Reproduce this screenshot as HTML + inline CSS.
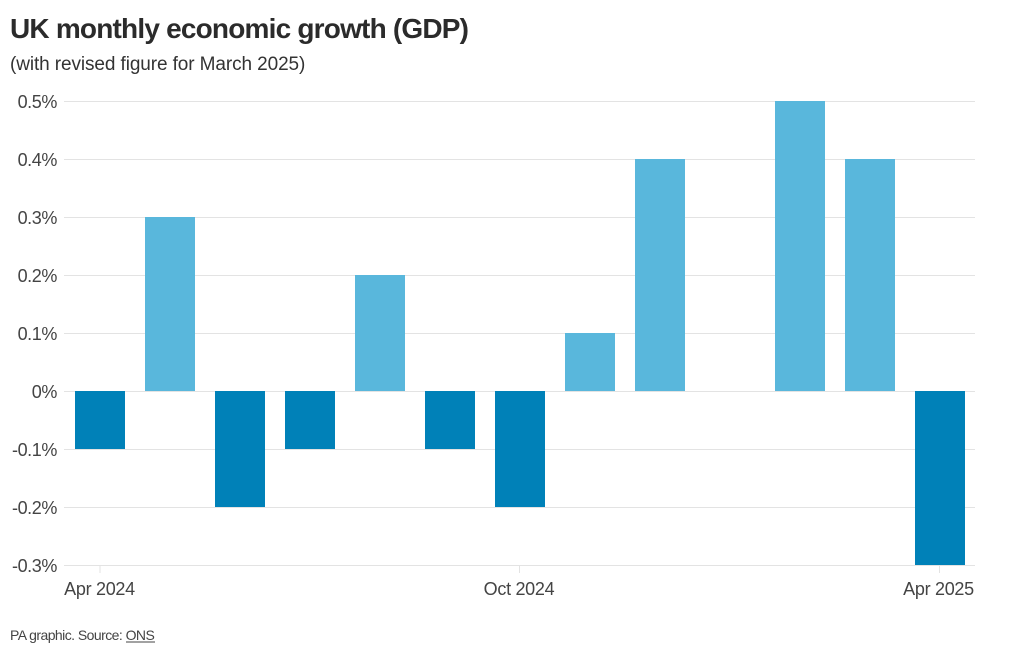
<!DOCTYPE html>
<html>
<head>
<meta charset="utf-8">
<style>
  html, body { margin: 0; padding: 0; background: #ffffff; }
  body { width: 1020px; height: 650px; overflow: hidden; position: relative; font-family: "Liberation Sans", sans-serif; }
  svg { position: absolute; left: 0; top: 0; }
</style>
</head>
<body>
<svg width="1020" height="650" viewBox="0 0 1020 650" xmlns="http://www.w3.org/2000/svg" font-family="Liberation Sans, sans-serif">
  <!-- Title -->
  <text x="10" y="38" font-size="28" font-weight="bold" fill="#2b2b2b" letter-spacing="-0.8">UK monthly economic growth (GDP)</text>
  <text x="10" y="70" font-size="19" fill="#333333" letter-spacing="-0.1">(with revised figure for March 2025)</text>

  <!-- Gridlines -->
  <g stroke="#e3e3e3" stroke-width="1">
    <line x1="64" y1="101.5" x2="975" y2="101.5"/>
    <line x1="64" y1="159.5" x2="975" y2="159.5"/>
    <line x1="64" y1="217.5" x2="975" y2="217.5"/>
    <line x1="64" y1="275.5" x2="975" y2="275.5"/>
    <line x1="64" y1="333.5" x2="975" y2="333.5"/>
    <line x1="64" y1="391.5" x2="975" y2="391.5"/>
    <line x1="64" y1="449.5" x2="975" y2="449.5"/>
    <line x1="64" y1="507.5" x2="975" y2="507.5"/>
    <line x1="64" y1="565.5" x2="975" y2="565.5"/>
  </g>
  <!-- Ticks -->
  <g stroke="#e3e3e3" stroke-width="1">
    <line x1="100" y1="566" x2="100" y2="573"/>
    <line x1="519.5" y1="566" x2="519.5" y2="573"/>
    <line x1="939.5" y1="566" x2="939.5" y2="573"/>
  </g>

  <!-- Y labels -->
  <g font-size="18" fill="#444444" text-anchor="end" letter-spacing="-0.4">
    <text x="57" y="108">0.5%</text>
    <text x="57" y="166">0.4%</text>
    <text x="57" y="224">0.3%</text>
    <text x="57" y="282">0.2%</text>
    <text x="57" y="340">0.1%</text>
    <text x="57" y="398">0%</text>
    <text x="57" y="456">-0.1%</text>
    <text x="57" y="514">-0.2%</text>
    <text x="57" y="572">-0.3%</text>
  </g>

  <!-- Bars -->
  <g>
    <rect x="75" y="391" width="50" height="58" fill="#0081b8"/>
    <rect x="145" y="217" width="50" height="174" fill="#59b7dc"/>
    <rect x="215" y="391" width="50" height="116" fill="#0081b8"/>
    <rect x="285" y="391" width="50" height="58" fill="#0081b8"/>
    <rect x="355" y="275" width="50" height="116" fill="#59b7dc"/>
    <rect x="425" y="391" width="50" height="58" fill="#0081b8"/>
    <rect x="495" y="391" width="50" height="116" fill="#0081b8"/>
    <rect x="565" y="333" width="50" height="58" fill="#59b7dc"/>
    <rect x="635" y="159" width="50" height="232" fill="#59b7dc"/>
    <rect x="775" y="101" width="50" height="290" fill="#59b7dc"/>
    <rect x="845" y="159" width="50" height="232" fill="#59b7dc"/>
    <rect x="915" y="391" width="50" height="174" fill="#0081b8"/>
  </g>

  <!-- X labels -->
  <g font-size="18" fill="#444444" text-anchor="middle" letter-spacing="-0.3">
    <text x="99.5" y="595">Apr 2024</text>
    <text x="519" y="595">Oct 2024</text>
    <text x="938.5" y="595">Apr 2025</text>
  </g>

  <!-- Footer -->
  <text x="10" y="640" font-size="14" fill="#444444" letter-spacing="-0.55">PA graphic. Source: ONS</text>
  <line x1="126" y1="642" x2="155" y2="642" stroke="#444444" stroke-width="1"/>
</svg>
</body>
</html>
